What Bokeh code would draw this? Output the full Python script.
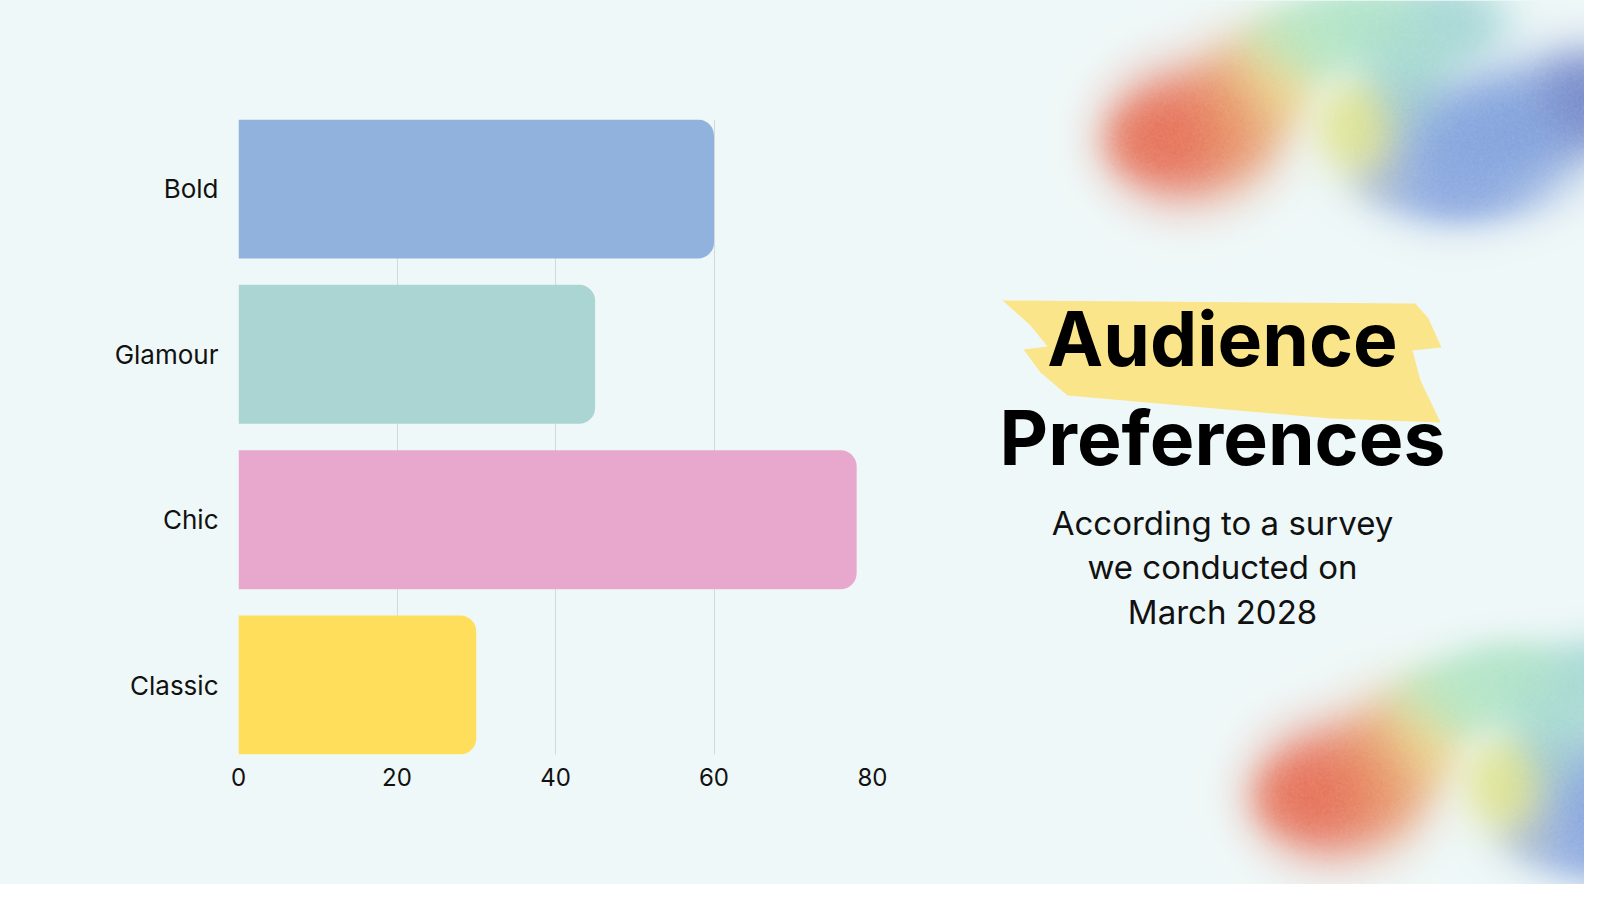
import numpy as np
from bokeh.plotting import figure
from bokeh.layouts import row
from bokeh.models import ColumnDataSource, FactorRange, Range1d, FixedTicker
from bokeh.core.properties import value
from bokeh.embed import file_html
from bokeh.resources import INLINE

# ---------------- data ----------------
categories = ["Bold", "Glamour", "Chic", "Classic"]
values = [60, 45, 78, 30]
bar_colors = ["#91b2dc", "#abd5d3", "#e8a7cc", "#ffde5c"]
x_ticks = [0, 20, 40, 60, 80]

title_lines = ["Audience", "Preferences"]
subtitle_lines = ["According to a survey", "we conducted on", "March 2028"]

# ---------------- style ----------------
BG = "#eff8f8"
FONT = "Inter"
TOTAL_W, TOTAL_H = 1584, 884
SPLIT = 950
F_LEFT, F_RIGHT, F_TOP, F_BOTTOM = 238, 872, 119, 754

# ---------------- bar chart ----------------
src = ColumnDataSource(dict(cat=categories, val=values, color=bar_colors))

p = figure(width=SPLIT, height=TOTAL_H,
           y_range=FactorRange(factors=categories[::-1], range_padding=-0.08,
                               range_padding_units="absolute"),
           x_range=Range1d(0, 80),
           output_backend="svg", toolbar_location=None,
           min_border_left=F_LEFT, min_border_right=SPLIT - F_RIGHT,
           min_border_top=F_TOP, min_border_bottom=TOTAL_H - F_BOTTOM,
           frame_align=False)
p.background_fill_color = BG
p.border_fill_color = BG
p.outline_line_color = None

p.hbar(y="cat", left=0, right="val", height=0.84, fill_color="color",
       line_color=None, source=src, border_radius=(0, 16, 16, 0))

p.xaxis.ticker = FixedTicker(ticks=x_ticks)
p.xgrid.ticker = FixedTicker(ticks=x_ticks)
p.xgrid.grid_line_color = "#d3dadd"
p.xgrid.grid_line_width = 1
p.ygrid.grid_line_color = None
for ax in (p.xaxis, p.yaxis):
    ax.axis_line_color = None
    ax.major_tick_line_color = None
    ax.minor_tick_line_color = None
    ax.major_label_text_font = FONT
    ax.major_label_text_color = "#111111"
p.xaxis.major_label_text_font_size = "24px"
p.yaxis.major_label_text_font_size = "26px"
p.xaxis.major_label_standoff = 7
p.yaxis.major_label_standoff = 14

# ---------------- right panel ----------------
RW = TOTAL_W - SPLIT
q = figure(width=RW, height=TOTAL_H, x_range=Range1d(SPLIT, TOTAL_W),
           y_range=Range1d(0, TOTAL_H), output_backend="svg",
           toolbar_location=None, x_axis_location=None, y_axis_location=None,
           min_border=0, frame_align=False)
q.background_fill_color = BG
q.border_fill_color = BG
q.outline_line_color = None
q.xgrid.visible = False
q.ygrid.visible = False

# blurred decorative blobs (reference pixel coords, y down)
blobs = [
    (1180, 135, 38, 36, (230, 110, 86), 1.0),
    (1145, 140, 24, 22, (232, 122, 96), 0.5),
    (1235, 112, 30, 38, (233, 160, 110), 0.85),
    (1272, 80, 26, 30, (236, 222, 150), 0.8),
    (1300, 45, 30, 22, (182, 230, 195), 1.0),
    (1358, 22, 36, 22, (178, 228, 200), 1.0),
    (1405, 50, 32, 28, (168, 220, 208), 0.9),
    (1452, 22, 32, 24, (165, 214, 214), 0.85),
    (1405, 100, 24, 26, (160, 205, 212), 0.6),
    (1362, 127, 26, 28, (228, 230, 140), 0.9),
    (1385, 178, 22, 18, (170, 182, 190), 0.25),
    (1450, 150, 42, 36, (135, 165, 222), 1.0),
    (1517, 130, 40, 36, (130, 162, 220), 1.0),
    (1585, 100, 32, 30, (115, 132, 198), 0.9),
    (1460, 192, 42, 18, (145, 172, 225), 0.6),
]


def blob_image(x0, y0, w, h, dx, dy):
    ys, xs = np.mgrid[0:h, 0:w]
    X = xs + x0 + 0.5
    Y = ys + y0 + 0.5
    W = np.zeros((h, w))
    C = np.zeros((h, w, 3))
    for cx, cy, sx, sy, col, s in blobs:
        wi = s * np.exp(-0.5 * (((X - cx - dx) / sx) ** 2 + ((Y - cy - dy) / sy) ** 2))
        W += wi
        C += wi[..., None] * np.array(col, dtype=float)
    col = C / np.maximum(W, 1e-9)[..., None]
    a = 1 - np.exp(-2.3 * W)
    rng = np.random.default_rng(3)
    a = np.clip(a * (1 + 0.04 * rng.standard_normal(a.shape)), 0, 1)
    rgba = np.zeros((h, w, 4), dtype=np.uint8)
    rgba[..., :3] = np.clip(col, 0, 255).astype(np.uint8)
    rgba[..., 3] = (a * 255).astype(np.uint8)
    img = rgba.view(np.uint32).reshape(h, w)
    return np.flipud(img)


for (x0, y0, w, h, dx, dy) in [(1030, 0, TOTAL_W - 1030, 300, 0, 0),
                               (1170, 580, TOTAL_W - 1170, TOTAL_H - 580, 148, 657)]:
    img = blob_image(x0, y0, w, h, dx, dy)
    q.image_rgba(image=[img], x=x0, y=TOTAL_H - (y0 + h), dw=w, dh=h)

# yellow brush highlight (reference pixel coords)
hl = [(1002, 300), (1415, 303), (1428, 318), (1441, 347), (1412, 350),
      (1420, 380), (1440, 422), (1330, 418), (1067, 395), (1040, 372),
      (1023, 349), (1047, 346), (1030, 325)]
q.patch([x for x, y in hl], [TOTAL_H - y for x, y in hl],
        fill_color="#fbe58b", line_color=None)

cx = 1222
q.text(x=[cx, cx], y=[TOTAL_H - 338, TOTAL_H - 437], text=title_lines,
       text_font=value(FONT), text_font_style="bold", text_font_size="75px",
       text_align="center", text_baseline="alphabetic", text_color="#000000")
q.text(x=[cx] * 3, y=[TOTAL_H - v for v in (522, 566, 611)],
       text=subtitle_lines, text_font=value(FONT), text_font_size="33px",
       text_align="center", text_baseline="alphabetic", text_color="#111111")

layout = row(p, q, spacing=0, styles={"background-color": BG})
open("out.html", "w").write(file_html(layout, INLINE))
